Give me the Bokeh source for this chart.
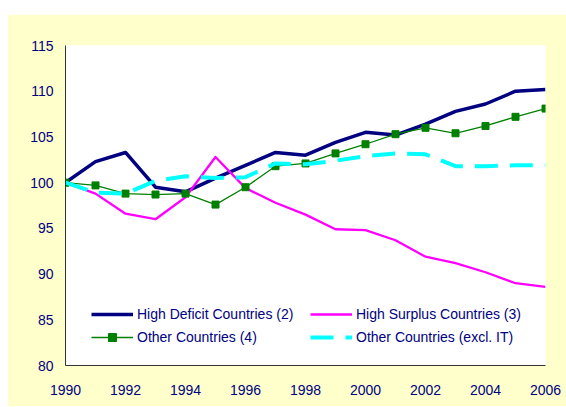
from bokeh.plotting import figure
from bokeh.models import Range1d, FixedTicker, Legend, LegendItem, Spacer
from bokeh.layouts import column, row
from bokeh.embed import file_html
from bokeh.resources import INLINE

years = list(range(1990, 2007))
high_deficit = [100, 102.3, 103.3, 99.5, 99.0, 100.5, 101.9, 103.3, 103.0, 104.4,
                105.5, 105.2, 106.4, 107.8, 108.6, 110.0, 110.2]
high_surplus = [100, 98.8, 96.6, 96.0, 98.4, 102.8, 99.4, 97.8, 96.5, 94.9,
                94.8, 93.7, 91.9, 91.2, 90.2, 89.0, 88.6]
other = [100, 99.7, 98.8, 98.7, 98.8, 97.6, 99.5, 101.8, 102.1, 103.2,
         104.2, 105.3, 106.0, 105.4, 106.2, 107.2, 108.1]
other_excl_it = [100, 98.9, 98.8, 100.2, 100.7, 100.5, 100.6, 102.1, 102.0, 102.4,
                 102.9, 103.2, 103.1, 101.8, 101.8, 101.9, 101.9]
x_ticks = [1990, 1992, 1994, 1996, 1998, 2000, 2002, 2004, 2006]
y_ticks = [80, 85, 90, 95, 100, 105, 110, 115]

FONT = "Liberation Sans"
TXT = "#000080"

p = figure(frame_width=480, frame_height=320,
           x_range=Range1d(1990, 2006), y_range=Range1d(80, 115),
           output_backend="svg", toolbar_location=None,
           min_border_left=58, min_border_right=21, min_border_top=31, min_border_bottom=41,
           background_fill_color="white", border_fill_color="#FFFFCC",
           outline_line_color=None)
p.grid.visible = False

for ax, ticks, so in ((p.xaxis, x_ticks, 19), (p.yaxis, y_ticks, 12)):
    ax.ticker = FixedTicker(ticks=ticks)
    ax.major_tick_out = 0
    ax.major_tick_in = 0
    ax.minor_tick_out = 0
    ax.minor_tick_in = 0
    ax.axis_line_color = "#333333"
    ax.axis_line_width = 1
    ax.major_label_text_font = FONT
    ax.major_label_text_font_size = "14px"
    ax.major_label_text_color = TXT
    ax.major_label_standoff = so

r1 = p.line(years, high_deficit, line_color="#000080", line_width=3.5, line_join="round")
r2 = p.line(years, high_surplus, line_color="#FF00FF", line_width=2.3, line_join="round")
r3 = p.line(years, other, line_color="#008000", line_width=1.3, line_join="round")
r3m = p.scatter(years, other, marker="square", size=7, fill_color="#008000", line_color="#008000")
r4 = p.line(years, other_excl_it, line_color="#00FFFF", line_width=4, line_dash="23 12")

common = dict(orientation="vertical", glyph_width=42, glyph_height=20, label_height=20,
              spacing=3, padding=0, margin=0, border_line_color=None,
              background_fill_alpha=0, label_text_font=FONT, label_text_font_size="14px",
              label_text_color=TXT, label_standoff=4)
leg1 = Legend(items=[LegendItem(label="High Deficit Countries (2)", renderers=[r1]),
                     LegendItem(label="Other Countries (4)", renderers=[r3, r3m])],
              location=(26, 18), **common)
leg2 = Legend(items=[LegendItem(label="High Surplus Countries (3)", renderers=[r2]),
                     LegendItem(label="Other Countries (excl. IT)", renderers=[r4])],
              location=(245, 18), **common)
p.add_layout(leg1)
p.add_layout(leg2)

layout = column(Spacer(height=14, width=10),
                row(Spacer(width=7, height=10), p, spacing=0),
                spacing=0)
open("out.html", "w").write(file_html(layout, INLINE))
